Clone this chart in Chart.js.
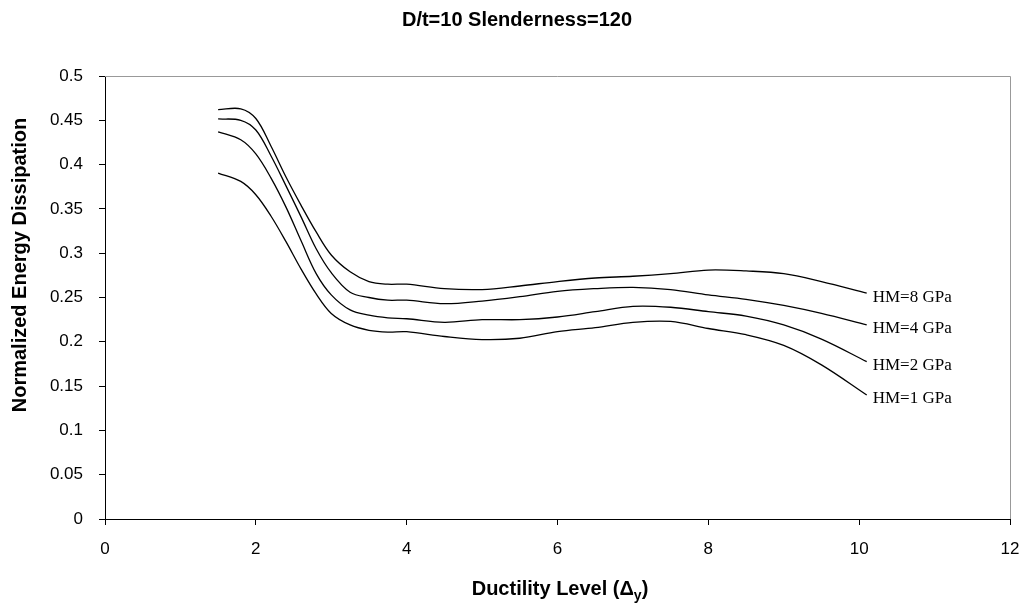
<!DOCTYPE html>
<html>
<head>
<meta charset="utf-8">
<script src="https://cdn.jsdelivr.net/npm/chart.js@4/dist/chart.umd.min.js"></script>
<style>
    body { margin: 0; background: #fff; }
    #wrap { width: 1028px; height: 612px; }
</style>
</head>
<body>
<div id="wrap"><canvas id="energyChart" width="1028" height="612"></canvas></div>
<script>
// Ductility levels (x) shared by all curves
const ductility = [1.5, 1.8, 2.0, 2.2, 2.4, 2.6, 2.8, 3.0, 3.25, 3.5, 3.75, 4.0, 4.5, 5.0, 5.5, 6.0, 6.5, 7.0, 7.5, 8.0, 8.5, 9.0, 9.5, 10.1];

const seriesNames = ["HM=8 GPa", "HM=4 GPa", "HM=2 GPa", "HM=1 GPa"];

const hm8 = [0.462, 0.463, 0.452, 0.421, 0.386, 0.354, 0.324, 0.298, 0.279, 0.268, 0.265, 0.265, 0.260, 0.259, 0.263, 0.268, 0.272, 0.274, 0.277, 0.281, 0.280, 0.277, 0.268, 0.255];
const hm4 = [0.4515, 0.450, 0.439, 0.410, 0.376, 0.341, 0.305, 0.278, 0.256, 0.250, 0.247, 0.247, 0.243, 0.246, 0.251, 0.257, 0.260, 0.2615, 0.259, 0.253, 0.248, 0.241, 0.232, 0.219];
const hm2 = [0.437, 0.428, 0.412, 0.385, 0.352, 0.314, 0.277, 0.253, 0.236, 0.230, 0.227, 0.226, 0.222, 0.225, 0.225, 0.228, 0.234, 0.240, 0.239, 0.234, 0.229, 0.219, 0.203, 0.1776];
const hm1 = [0.3905, 0.381, 0.366, 0.342, 0.313, 0.282, 0.254, 0.232, 0.219, 0.213, 0.211, 0.2114, 0.206, 0.2025, 0.204, 0.2115, 0.216, 0.222, 0.223, 0.215, 0.208, 0.196, 0.174, 0.140];

const xTicks = [0, 2, 4, 6, 8, 10, 12];
const yTicks = [0, 0.05, 0.1, 0.15, 0.2, 0.25, 0.3, 0.35, 0.4, 0.45, 0.5];

const allSeries = [hm8, hm4, hm2, hm1];

const sansFont = "'Liberation Sans', Arial, sans-serif";
const serifFont = "'Liberation Serif', 'Times New Roman', serif";

// title, axis titles, frame and end labels
const decorations = {
    id: "decorations",
    afterDraw(chart) {
        const { ctx, chartArea } = chart;
        ctx.save();

        // gray frame on top and right
        ctx.strokeStyle = "#999";
        ctx.lineWidth = 1;
        ctx.beginPath();
        ctx.moveTo(chartArea.left, chartArea.top + 0.5);
        ctx.lineTo(chartArea.right + 0.5, chartArea.top + 0.5);
        ctx.lineTo(chartArea.right + 0.5, chartArea.bottom);
        ctx.stroke();

        ctx.fillStyle = "#000";
        ctx.textAlign = "center";
        ctx.textBaseline = "middle";
        ctx.font = "bold 20px " + sansFont;
        ctx.fillText("D/t=10 Slenderness=120", 517, 20);

        // y axis title
        ctx.save();
        ctx.translate(20, 265);
        ctx.rotate(-Math.PI / 2);
        ctx.font = "bold 20px " + sansFont;
        ctx.fillText("Normalized Energy Dissipation", 0, 0);
        ctx.restore();

        // x axis title with subscript
        const part1 = "Ductility Level (\u0394";
        const part3 = ")";
        ctx.textAlign = "left";
        ctx.font = "bold 20px " + sansFont;
        const w1 = ctx.measureText(part1).width;
        const w3 = ctx.measureText(part3).width;
        ctx.font = "bold 14px " + sansFont;
        const w2 = ctx.measureText("y").width;
        let x = 560 - (w1 + w2 + w3) / 2;
        ctx.font = "bold 20px " + sansFont;
        ctx.fillText(part1, x, 589);
        x += w1;
        ctx.font = "bold 14px " + sansFont;
        ctx.fillText("y", x, 596);
        x += w2;
        ctx.font = "bold 20px " + sansFont;
        ctx.fillText(part3, x, 589);

        // curve labels at end of each line
        ctx.font = "17px " + serifFont;
        chart.data.datasets.forEach((ds, i) => {
            const pts = chart.getDatasetMeta(i).data;
            const last = pts[pts.length - 1];
            ctx.fillText(ds.label, last.x + 6, last.y + 4);
        });

        ctx.restore();
    }
};

new Chart(document.getElementById("energyChart"), {
    type: "line",
    data: {
        datasets: allSeries.map((vals, i) => ({
            label: seriesNames[i],
            data: ductility.map((d, j) => ({ x: d, y: vals[j] })),
            borderColor: "#000",
            borderWidth: 1.3,
            pointRadius: 0,
            tension: 0.35,
            fill: false
        }))
    },
    options: {
        responsive: false,
        animation: false,
        layout: { padding: { top: 76, right: 18, bottom: 0, left: 0 } },
        plugins: {
            legend: { display: false },
            tooltip: { enabled: false },
            title: { display: false }
        },
        scales: {
            x: {
                type: "linear",
                min: 0,
                max: 12,
                afterBuildTicks: (scale) => { scale.ticks = xTicks.map(v => ({ value: v })); },
                afterFit: (scale) => {
                    scale.height = 93;
                    scale.paddingLeft = 0;
                    scale.paddingRight = 0;
                },
                grid: { drawOnChartArea: false, drawTicks: true, tickLength: 6, color: "#000" },
                border: { color: "#000", width: 1 },
                ticks: {
                    color: "#000",
                    padding: 14,
                    maxRotation: 0,
                    font: { family: sansFont, size: 17 }
                }
            },
            y: {
                min: 0,
                max: 0.5,
                afterBuildTicks: (scale) => { scale.ticks = yTicks.map(v => ({ value: v })); },
                afterFit: (scale) => { scale.width = 105; },
                grid: { drawOnChartArea: false, drawTicks: true, tickLength: 6, color: "#000" },
                border: { color: "#000", width: 1 },
                ticks: {
                    color: "#000",
                    padding: 16,
                    font: { family: sansFont, size: 17 },
                    callback: (v) => String(+v.toFixed(2))
                }
            }
        }
    },
    plugins: [decorations]
});
</script>
</body>
</html>
